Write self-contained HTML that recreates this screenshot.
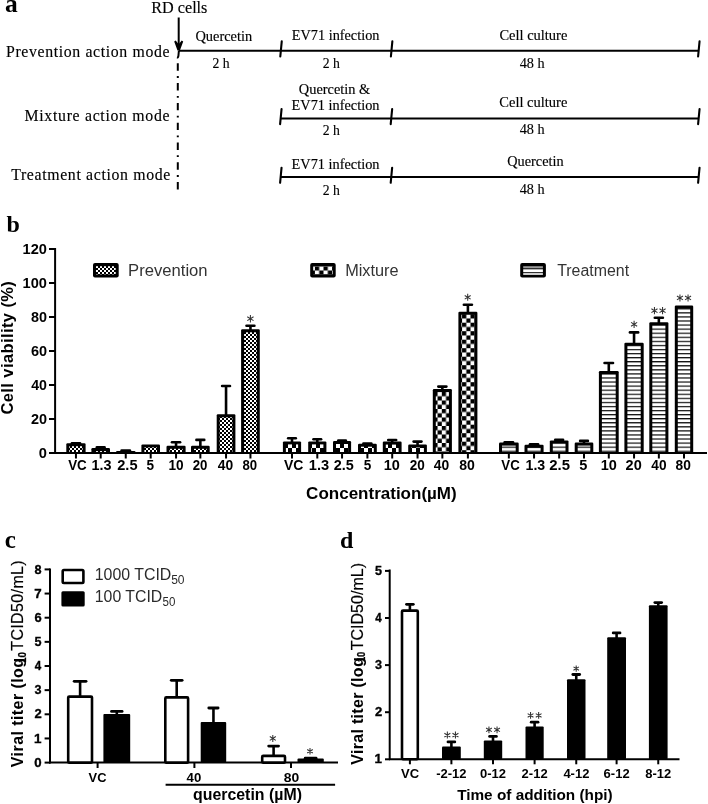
<!DOCTYPE html>
<html><head><meta charset="utf-8"><title>Figure</title>
<style>html,body{margin:0;padding:0;background:#fff;width:708px;height:804px;overflow:hidden}svg{display:block;will-change:transform}</style>
</head><body><svg width="708" height="804" viewBox="0 0 708 804">
<defs>
<pattern id="ck2" width="4" height="4" patternUnits="userSpaceOnUse"><rect width="4" height="4" fill="#fff"/><rect width="2" height="2" fill="#000"/><rect x="2" y="2" width="2" height="2" fill="#000"/></pattern>
<pattern id="ck4" width="8" height="8" patternUnits="userSpaceOnUse"><rect width="8" height="8" fill="#fff"/><rect width="4" height="4" fill="#000"/><rect x="4" y="4" width="4" height="4" fill="#000"/></pattern>
<pattern id="hs" width="4" height="4.07" patternUnits="userSpaceOnUse" patternTransform="translate(0,2.95)"><rect width="4" height="4.07" fill="#fff"/><rect y="0.05" width="4" height="1.15" fill="#000"/></pattern>
<pattern id="ckm80" width="8.4" height="8.5" patternUnits="userSpaceOnUse" patternTransform="translate(462.1,314.2)"><rect width="8.4" height="8.5" fill="#fff"/><rect width="4.2" height="4.25" fill="#000"/><rect x="4.2" y="4.25" width="4.2" height="4.25" fill="#000"/></pattern>
<pattern id="ckm40" width="8.4" height="8.5" patternUnits="userSpaceOnUse" patternTransform="translate(441.8,392)"><rect width="8.4" height="8.5" fill="#fff"/><rect width="4.2" height="4.25" fill="#000"/><rect x="4.2" y="4.25" width="4.2" height="4.25" fill="#000"/></pattern>
<pattern id="ckleg" width="8.6" height="8.2" patternUnits="userSpaceOnUse" patternTransform="translate(314.9,266.4)"><rect width="8.6" height="8.2" fill="#fff"/><rect width="4.3" height="4.1" fill="#000"/><rect x="4.3" y="4.1" width="4.3" height="4.1" fill="#000"/></pattern>
</defs>
<text x="5.00" y="11.90" font-family="Liberation Serif" font-weight="bold" font-size="25.5" fill="#000">a</text>
<text x="151.25" y="13.40" font-family="Liberation Serif" font-weight="normal" font-size="16" fill="#000" stroke="#000" stroke-width="0.15" textLength="56.16" lengthAdjust="spacingAndGlyphs">RD cells</text>
<line x1="178.70" y1="17.50" x2="178.70" y2="47.00" stroke="#000" stroke-width="2"/>
<path d="M174.2,41.6 L175.7,40.5 L178.7,44.2 L181.7,40.5 L183.2,41.6 L179.9,50.6 L177.5,50.6 Z" fill="#000"/>
<line x1="179.00" y1="50.80" x2="698.50" y2="50.80" stroke="#000" stroke-width="2"/>
<line x1="281.75" y1="41.40" x2="280.30" y2="56.50" stroke="#000" stroke-width="2.1" stroke-linecap="round"/>
<line x1="392.35" y1="41.40" x2="390.90" y2="56.50" stroke="#000" stroke-width="2.1" stroke-linecap="round"/>
<line x1="699.55" y1="41.40" x2="698.10" y2="56.50" stroke="#000" stroke-width="2.1" stroke-linecap="round"/>
<path d="M178.9,50.5 L178.4,56 Q178.2,57.6 176.9,57.4" fill="none" stroke="#000" stroke-width="2"/>
<line x1="280.60" y1="118.50" x2="698.50" y2="118.50" stroke="#000" stroke-width="2"/>
<line x1="281.55" y1="109.10" x2="280.10" y2="124.20" stroke="#000" stroke-width="2.1" stroke-linecap="round"/>
<line x1="392.15" y1="109.10" x2="390.70" y2="124.20" stroke="#000" stroke-width="2.1" stroke-linecap="round"/>
<line x1="699.55" y1="109.10" x2="698.10" y2="124.20" stroke="#000" stroke-width="2.1" stroke-linecap="round"/>
<line x1="280.60" y1="177.10" x2="698.50" y2="177.10" stroke="#000" stroke-width="2"/>
<line x1="281.55" y1="167.70" x2="280.10" y2="182.80" stroke="#000" stroke-width="2.1" stroke-linecap="round"/>
<line x1="392.15" y1="167.70" x2="390.70" y2="182.80" stroke="#000" stroke-width="2.1" stroke-linecap="round"/>
<line x1="699.55" y1="167.70" x2="698.10" y2="182.80" stroke="#000" stroke-width="2.1" stroke-linecap="round"/>
<line x1="177.8" y1="63.3" x2="177.8" y2="190" stroke="#000" stroke-width="2" stroke-dasharray="7.4 5.4 1.8 5.2"/>
<text x="5.95" y="56.80" font-family="Liberation Serif" font-weight="normal" font-size="15.8" fill="#000" stroke="#000" stroke-width="0.15" textLength="163.56" lengthAdjust="spacing">Prevention action mode</text>
<text x="24.55" y="121.10" font-family="Liberation Serif" font-weight="normal" font-size="15.8" fill="#000" stroke="#000" stroke-width="0.15" textLength="144.96" lengthAdjust="spacing">Mixture action mode</text>
<text x="11.15" y="179.60" font-family="Liberation Serif" font-weight="normal" font-size="15.8" fill="#000" stroke="#000" stroke-width="0.15" textLength="159.17" lengthAdjust="spacing">Treatment action mode</text>
<text x="195.43" y="41.20" font-family="Liberation Serif" font-weight="normal" font-size="14" fill="#000" stroke="#000" stroke-width="0.15" textLength="56.77" lengthAdjust="spacingAndGlyphs">Quercetin</text>
<text x="212.41" y="67.50" font-family="Liberation Serif" font-weight="normal" font-size="14" fill="#000" stroke="#000" stroke-width="0.15" textLength="17.13" lengthAdjust="spacingAndGlyphs">2 h</text>
<text x="291.79" y="40.30" font-family="Liberation Serif" font-weight="normal" font-size="14" fill="#000" stroke="#000" stroke-width="0.15" textLength="87.63" lengthAdjust="spacingAndGlyphs">EV71 infection</text>
<text x="322.71" y="68.00" font-family="Liberation Serif" font-weight="normal" font-size="14" fill="#000" stroke="#000" stroke-width="0.15" textLength="17.13" lengthAdjust="spacingAndGlyphs">2 h</text>
<text x="499.43" y="40.00" font-family="Liberation Serif" font-weight="normal" font-size="14" fill="#000" stroke="#000" stroke-width="0.15" textLength="67.94" lengthAdjust="spacingAndGlyphs">Cell culture</text>
<text x="519.65" y="67.80" font-family="Liberation Serif" font-weight="normal" font-size="14" fill="#000" stroke="#000" stroke-width="0.15" textLength="24.91" lengthAdjust="spacingAndGlyphs">48 h</text>
<text x="298.84" y="93.50" font-family="Liberation Serif" font-weight="normal" font-size="14" fill="#000" stroke="#000" stroke-width="0.15" textLength="71.40" lengthAdjust="spacingAndGlyphs">Quercetin &amp;</text>
<text x="291.59" y="110.40" font-family="Liberation Serif" font-weight="normal" font-size="14" fill="#000" stroke="#000" stroke-width="0.15" textLength="87.94" lengthAdjust="spacingAndGlyphs">EV71 infection</text>
<text x="322.71" y="135.20" font-family="Liberation Serif" font-weight="normal" font-size="14" fill="#000" stroke="#000" stroke-width="0.15" textLength="17.13" lengthAdjust="spacingAndGlyphs">2 h</text>
<text x="499.33" y="107.20" font-family="Liberation Serif" font-weight="normal" font-size="14" fill="#000" stroke="#000" stroke-width="0.15" textLength="68.04" lengthAdjust="spacingAndGlyphs">Cell culture</text>
<text x="519.65" y="134.30" font-family="Liberation Serif" font-weight="normal" font-size="14" fill="#000" stroke="#000" stroke-width="0.15" textLength="24.91" lengthAdjust="spacingAndGlyphs">48 h</text>
<text x="291.59" y="169.40" font-family="Liberation Serif" font-weight="normal" font-size="14" fill="#000" stroke="#000" stroke-width="0.15" textLength="87.94" lengthAdjust="spacingAndGlyphs">EV71 infection</text>
<text x="322.71" y="194.70" font-family="Liberation Serif" font-weight="normal" font-size="14" fill="#000" stroke="#000" stroke-width="0.15" textLength="17.13" lengthAdjust="spacingAndGlyphs">2 h</text>
<text x="507.24" y="166.00" font-family="Liberation Serif" font-weight="normal" font-size="14" fill="#000" stroke="#000" stroke-width="0.15" textLength="56.36" lengthAdjust="spacingAndGlyphs">Quercetin</text>
<text x="519.65" y="193.50" font-family="Liberation Serif" font-weight="normal" font-size="14" fill="#000" stroke="#000" stroke-width="0.15" textLength="24.91" lengthAdjust="spacingAndGlyphs">48 h</text>
<text x="6.50" y="232.00" font-family="Liberation Serif" font-weight="bold" font-size="24" fill="#000">b</text>
<line x1="55.10" y1="248.00" x2="55.10" y2="454.00" stroke="#000" stroke-width="2"/>
<line x1="49.00" y1="453.00" x2="56.00" y2="453.00" stroke="#000" stroke-width="2"/>
<text x="38.83" y="457.90" font-family="Liberation Sans" font-weight="bold" font-size="15.5" fill="#000" textLength="8.15" lengthAdjust="spacingAndGlyphs">0</text>
<line x1="49.00" y1="419.00" x2="56.00" y2="419.00" stroke="#000" stroke-width="2"/>
<text x="30.93" y="423.90" font-family="Liberation Sans" font-weight="bold" font-size="15.5" fill="#000" textLength="16.06" lengthAdjust="spacingAndGlyphs">20</text>
<line x1="49.00" y1="385.00" x2="56.00" y2="385.00" stroke="#000" stroke-width="2"/>
<text x="31.22" y="389.90" font-family="Liberation Sans" font-weight="bold" font-size="15.5" fill="#000" textLength="15.77" lengthAdjust="spacingAndGlyphs">40</text>
<line x1="49.00" y1="351.00" x2="56.00" y2="351.00" stroke="#000" stroke-width="2"/>
<text x="30.89" y="355.90" font-family="Liberation Sans" font-weight="bold" font-size="15.5" fill="#000" textLength="16.11" lengthAdjust="spacingAndGlyphs">60</text>
<line x1="49.00" y1="317.00" x2="56.00" y2="317.00" stroke="#000" stroke-width="2"/>
<text x="30.98" y="321.90" font-family="Liberation Sans" font-weight="bold" font-size="15.5" fill="#000" textLength="16.01" lengthAdjust="spacingAndGlyphs">80</text>
<line x1="49.00" y1="283.00" x2="56.00" y2="283.00" stroke="#000" stroke-width="2"/>
<text x="22.60" y="287.90" font-family="Liberation Sans" font-weight="bold" font-size="15.5" fill="#000" textLength="24.37" lengthAdjust="spacingAndGlyphs">100</text>
<line x1="49.00" y1="249.00" x2="56.00" y2="249.00" stroke="#000" stroke-width="2"/>
<text x="22.60" y="253.90" font-family="Liberation Sans" font-weight="bold" font-size="15.5" fill="#000" textLength="24.37" lengthAdjust="spacingAndGlyphs">120</text>
<text x="13.30" y="414.55" transform="rotate(-90 13.30 414.55)" font-family="Liberation Sans" font-weight="bold" font-size="16.5" fill="#000" textLength="133.43" lengthAdjust="spacing">Cell viability (%)</text>
<line x1="54.00" y1="453.00" x2="707.00" y2="453.00" stroke="#000" stroke-width="2"/>
<line x1="75.95" y1="443.40" x2="75.95" y2="444.20" stroke="#000" stroke-width="2.6"/>
<line x1="71.84" y1="443.40" x2="80.06" y2="443.40" stroke="#000" stroke-width="2.6" stroke-linecap="round"/>
<rect x="66.30" y="443.20" width="19.30" height="9.80" rx="1.2" fill="#000"/>
<rect x="69.30" y="446.20" width="13.30" height="5.80" fill="url(#ck2)"/>
<line x1="75.95" y1="453.00" x2="75.95" y2="458.50" stroke="#000" stroke-width="2"/>
<line x1="100.70" y1="447.40" x2="100.70" y2="449.10" stroke="#000" stroke-width="2.6"/>
<line x1="96.79" y1="447.40" x2="104.61" y2="447.40" stroke="#000" stroke-width="2.6" stroke-linecap="round"/>
<rect x="91.40" y="448.10" width="18.60" height="4.90" rx="1.2" fill="#000"/>
<rect x="94.40" y="451.10" width="12.60" height="0.90" fill="url(#ck2)"/>
<line x1="100.70" y1="453.00" x2="100.70" y2="458.50" stroke="#000" stroke-width="2"/>
<line x1="125.75" y1="450.50" x2="125.75" y2="451.90" stroke="#000" stroke-width="2.6"/>
<line x1="121.59" y1="450.50" x2="129.91" y2="450.50" stroke="#000" stroke-width="2.6" stroke-linecap="round"/>
<rect x="116.00" y="450.90" width="19.50" height="2.10" rx="1.2" fill="#000"/>
<rect x="119.00" y="453.90" width="13.50" height="0.00" fill="url(#ck2)"/>
<line x1="125.75" y1="453.00" x2="125.75" y2="458.50" stroke="#000" stroke-width="2"/>
<rect x="141.40" y="444.40" width="18.60" height="8.60" rx="1.2" fill="#000"/>
<rect x="144.40" y="447.40" width="12.60" height="4.60" fill="url(#ck2)"/>
<line x1="150.70" y1="453.00" x2="150.70" y2="458.50" stroke="#000" stroke-width="2"/>
<line x1="176.05" y1="442.20" x2="176.05" y2="446.80" stroke="#000" stroke-width="2.6"/>
<line x1="172.00" y1="442.20" x2="180.10" y2="442.20" stroke="#000" stroke-width="2.6" stroke-linecap="round"/>
<rect x="166.50" y="445.80" width="19.10" height="7.20" rx="1.2" fill="#000"/>
<rect x="169.50" y="448.80" width="13.10" height="3.20" fill="url(#ck2)"/>
<line x1="176.05" y1="453.00" x2="176.05" y2="458.50" stroke="#000" stroke-width="2"/>
<line x1="200.35" y1="439.90" x2="200.35" y2="446.80" stroke="#000" stroke-width="2.6"/>
<line x1="196.41" y1="439.90" x2="204.29" y2="439.90" stroke="#000" stroke-width="2.6" stroke-linecap="round"/>
<rect x="191.00" y="445.80" width="18.70" height="7.20" rx="1.2" fill="#000"/>
<rect x="194.00" y="448.80" width="12.70" height="3.20" fill="url(#ck2)"/>
<line x1="200.35" y1="453.00" x2="200.35" y2="458.50" stroke="#000" stroke-width="2"/>
<line x1="226.05" y1="386.00" x2="226.05" y2="415.30" stroke="#000" stroke-width="2.6"/>
<line x1="222.11" y1="386.00" x2="229.99" y2="386.00" stroke="#000" stroke-width="2.6" stroke-linecap="round"/>
<rect x="216.70" y="414.30" width="18.70" height="38.70" rx="1.2" fill="#000"/>
<rect x="219.70" y="417.30" width="12.70" height="34.70" fill="url(#ck2)"/>
<line x1="226.05" y1="453.00" x2="226.05" y2="458.50" stroke="#000" stroke-width="2"/>
<line x1="250.45" y1="325.80" x2="250.45" y2="330.30" stroke="#000" stroke-width="2.6"/>
<line x1="246.51" y1="325.80" x2="254.39" y2="325.80" stroke="#000" stroke-width="2.6" stroke-linecap="round"/>
<rect x="241.10" y="329.30" width="18.70" height="123.70" rx="1.2" fill="#000"/>
<rect x="244.10" y="332.30" width="12.70" height="119.70" fill="url(#ck2)"/>
<line x1="250.45" y1="453.00" x2="250.45" y2="458.50" stroke="#000" stroke-width="2"/>
<line x1="292.00" y1="438.20" x2="292.00" y2="442.40" stroke="#000" stroke-width="2.6"/>
<line x1="288.19" y1="438.20" x2="295.81" y2="438.20" stroke="#000" stroke-width="2.6" stroke-linecap="round"/>
<rect x="282.90" y="441.40" width="18.20" height="11.60" rx="1.2" fill="#000"/>
<rect x="285.90" y="444.40" width="12.20" height="7.60" fill="url(#ck4)"/>
<line x1="292.00" y1="453.00" x2="292.00" y2="458.50" stroke="#000" stroke-width="2"/>
<line x1="317.30" y1="439.20" x2="317.30" y2="442.40" stroke="#000" stroke-width="2.6"/>
<line x1="313.49" y1="439.20" x2="321.10" y2="439.20" stroke="#000" stroke-width="2.6" stroke-linecap="round"/>
<rect x="308.20" y="441.40" width="18.20" height="11.60" rx="1.2" fill="#000"/>
<rect x="311.20" y="444.40" width="12.20" height="7.60" fill="url(#ck4)"/>
<line x1="317.30" y1="453.00" x2="317.30" y2="458.50" stroke="#000" stroke-width="2"/>
<line x1="342.05" y1="440.60" x2="342.05" y2="442.00" stroke="#000" stroke-width="2.6"/>
<line x1="338.27" y1="440.60" x2="345.83" y2="440.60" stroke="#000" stroke-width="2.6" stroke-linecap="round"/>
<rect x="333.00" y="441.00" width="18.10" height="12.00" rx="1.2" fill="#000"/>
<rect x="336.00" y="444.00" width="12.10" height="8.00" fill="url(#ck4)"/>
<line x1="342.05" y1="453.00" x2="342.05" y2="458.50" stroke="#000" stroke-width="2"/>
<line x1="367.40" y1="443.60" x2="367.40" y2="444.70" stroke="#000" stroke-width="2.6"/>
<line x1="363.43" y1="443.60" x2="371.37" y2="443.60" stroke="#000" stroke-width="2.6" stroke-linecap="round"/>
<rect x="358.00" y="443.70" width="18.80" height="9.30" rx="1.2" fill="#000"/>
<rect x="361.00" y="446.70" width="12.80" height="5.30" fill="url(#ck4)"/>
<line x1="367.40" y1="453.00" x2="367.40" y2="458.50" stroke="#000" stroke-width="2"/>
<line x1="392.20" y1="440.00" x2="392.20" y2="442.60" stroke="#000" stroke-width="2.6"/>
<line x1="388.23" y1="440.00" x2="396.17" y2="440.00" stroke="#000" stroke-width="2.6" stroke-linecap="round"/>
<rect x="382.80" y="441.60" width="18.80" height="11.40" rx="1.2" fill="#000"/>
<rect x="385.80" y="444.60" width="12.80" height="7.40" fill="url(#ck4)"/>
<line x1="392.20" y1="453.00" x2="392.20" y2="458.50" stroke="#000" stroke-width="2"/>
<line x1="417.55" y1="441.60" x2="417.55" y2="445.50" stroke="#000" stroke-width="2.6"/>
<line x1="413.61" y1="441.60" x2="421.49" y2="441.60" stroke="#000" stroke-width="2.6" stroke-linecap="round"/>
<rect x="408.20" y="444.50" width="18.70" height="8.50" rx="1.2" fill="#000"/>
<rect x="411.20" y="447.50" width="12.70" height="4.50" fill="url(#ck4)"/>
<line x1="417.55" y1="453.00" x2="417.55" y2="458.50" stroke="#000" stroke-width="2"/>
<line x1="442.35" y1="386.60" x2="442.35" y2="390.10" stroke="#000" stroke-width="2.6"/>
<line x1="438.30" y1="386.60" x2="446.40" y2="386.60" stroke="#000" stroke-width="2.6" stroke-linecap="round"/>
<rect x="432.80" y="389.10" width="19.10" height="63.90" rx="1.2" fill="#000"/>
<rect x="435.80" y="392.10" width="13.10" height="59.90" fill="url(#ckm40)"/>
<line x1="442.35" y1="453.00" x2="442.35" y2="458.50" stroke="#000" stroke-width="2"/>
<line x1="467.90" y1="304.70" x2="467.90" y2="312.70" stroke="#000" stroke-width="2.6"/>
<line x1="463.87" y1="304.70" x2="471.93" y2="304.70" stroke="#000" stroke-width="2.6" stroke-linecap="round"/>
<rect x="458.40" y="311.70" width="19.00" height="141.30" rx="1.2" fill="#000"/>
<rect x="461.40" y="314.70" width="13.00" height="137.30" fill="url(#ckm80)"/>
<line x1="467.90" y1="453.00" x2="467.90" y2="458.50" stroke="#000" stroke-width="2"/>
<line x1="508.85" y1="442.40" x2="508.85" y2="443.60" stroke="#000" stroke-width="2.6"/>
<line x1="504.63" y1="442.40" x2="513.07" y2="442.40" stroke="#000" stroke-width="2.6" stroke-linecap="round"/>
<rect x="499.00" y="442.60" width="19.70" height="10.40" rx="1.2" fill="#000"/>
<rect x="502.00" y="445.60" width="13.70" height="6.40" fill="url(#hs)"/>
<line x1="508.85" y1="453.00" x2="508.85" y2="458.50" stroke="#000" stroke-width="2"/>
<line x1="534.05" y1="444.30" x2="534.05" y2="445.80" stroke="#000" stroke-width="2.6"/>
<line x1="530.00" y1="444.30" x2="538.10" y2="444.30" stroke="#000" stroke-width="2.6" stroke-linecap="round"/>
<rect x="524.50" y="444.80" width="19.10" height="8.20" rx="1.2" fill="#000"/>
<rect x="527.50" y="447.80" width="13.10" height="4.20" fill="url(#hs)"/>
<line x1="534.05" y1="453.00" x2="534.05" y2="458.50" stroke="#000" stroke-width="2"/>
<line x1="559.15" y1="439.90" x2="559.15" y2="441.40" stroke="#000" stroke-width="2.6"/>
<line x1="555.21" y1="439.90" x2="563.09" y2="439.90" stroke="#000" stroke-width="2.6" stroke-linecap="round"/>
<rect x="549.80" y="440.40" width="18.70" height="12.60" rx="1.2" fill="#000"/>
<rect x="552.80" y="443.40" width="12.70" height="8.60" fill="url(#hs)"/>
<line x1="559.15" y1="453.00" x2="559.15" y2="458.50" stroke="#000" stroke-width="2"/>
<line x1="584.00" y1="440.90" x2="584.00" y2="443.60" stroke="#000" stroke-width="2.6"/>
<line x1="580.09" y1="440.90" x2="587.91" y2="440.90" stroke="#000" stroke-width="2.6" stroke-linecap="round"/>
<rect x="574.70" y="442.60" width="18.60" height="10.40" rx="1.2" fill="#000"/>
<rect x="577.70" y="445.60" width="12.60" height="6.40" fill="url(#hs)"/>
<line x1="584.00" y1="453.00" x2="584.00" y2="458.50" stroke="#000" stroke-width="2"/>
<line x1="608.80" y1="363.00" x2="608.80" y2="372.10" stroke="#000" stroke-width="2.6"/>
<line x1="604.55" y1="363.00" x2="613.04" y2="363.00" stroke="#000" stroke-width="2.6" stroke-linecap="round"/>
<rect x="598.90" y="371.10" width="19.80" height="81.90" rx="1.2" fill="#000"/>
<rect x="601.90" y="374.10" width="13.80" height="77.90" fill="url(#hs)"/>
<line x1="608.80" y1="453.00" x2="608.80" y2="458.50" stroke="#000" stroke-width="2"/>
<line x1="634.05" y1="332.40" x2="634.05" y2="343.70" stroke="#000" stroke-width="2.6"/>
<line x1="629.94" y1="332.40" x2="638.16" y2="332.40" stroke="#000" stroke-width="2.6" stroke-linecap="round"/>
<rect x="624.40" y="342.70" width="19.30" height="110.30" rx="1.2" fill="#000"/>
<rect x="627.40" y="345.70" width="13.30" height="106.30" fill="url(#hs)"/>
<line x1="634.05" y1="453.00" x2="634.05" y2="458.50" stroke="#000" stroke-width="2"/>
<line x1="658.85" y1="317.80" x2="658.85" y2="323.30" stroke="#000" stroke-width="2.6"/>
<line x1="654.80" y1="317.80" x2="662.90" y2="317.80" stroke="#000" stroke-width="2.6" stroke-linecap="round"/>
<rect x="649.30" y="322.30" width="19.10" height="130.70" rx="1.2" fill="#000"/>
<rect x="652.30" y="325.30" width="13.10" height="126.70" fill="url(#hs)"/>
<line x1="658.85" y1="453.00" x2="658.85" y2="458.50" stroke="#000" stroke-width="2"/>
<rect x="674.80" y="305.50" width="18.40" height="147.50" rx="1.2" fill="#000"/>
<rect x="677.80" y="308.50" width="12.40" height="143.50" fill="url(#hs)"/>
<line x1="684.00" y1="453.00" x2="684.00" y2="458.50" stroke="#000" stroke-width="2"/>
<text x="68.15" y="469.90" font-family="Liberation Sans" font-weight="bold" font-size="14" fill="#000" textLength="18.58" lengthAdjust="spacingAndGlyphs">VC</text>
<text x="91.42" y="469.90" font-family="Liberation Sans" font-weight="bold" font-size="14" fill="#000" textLength="20.05" lengthAdjust="spacingAndGlyphs">1.3</text>
<text x="117.23" y="469.90" font-family="Liberation Sans" font-weight="bold" font-size="14" fill="#000" textLength="20.35" lengthAdjust="spacingAndGlyphs">2.5</text>
<text x="146.61" y="469.90" font-family="Liberation Sans" font-weight="bold" font-size="14" fill="#000" textLength="7.56" lengthAdjust="spacingAndGlyphs">5</text>
<text x="168.57" y="469.90" font-family="Liberation Sans" font-weight="bold" font-size="14" fill="#000" textLength="15.13" lengthAdjust="spacingAndGlyphs">10</text>
<text x="192.77" y="469.90" font-family="Liberation Sans" font-weight="bold" font-size="14" fill="#000" textLength="14.72" lengthAdjust="spacingAndGlyphs">20</text>
<text x="217.80" y="469.90" font-family="Liberation Sans" font-weight="bold" font-size="14" fill="#000" textLength="15.41" lengthAdjust="spacingAndGlyphs">40</text>
<text x="242.42" y="469.90" font-family="Liberation Sans" font-weight="bold" font-size="14" fill="#000" textLength="14.67" lengthAdjust="spacingAndGlyphs">80</text>
<text x="283.95" y="469.90" font-family="Liberation Sans" font-weight="bold" font-size="14" fill="#000" textLength="19.40" lengthAdjust="spacingAndGlyphs">VC</text>
<text x="308.81" y="469.90" font-family="Liberation Sans" font-weight="bold" font-size="14" fill="#000" textLength="20.37" lengthAdjust="spacingAndGlyphs">1.3</text>
<text x="333.74" y="469.90" font-family="Liberation Sans" font-weight="bold" font-size="14" fill="#000" textLength="20.04" lengthAdjust="spacingAndGlyphs">2.5</text>
<text x="363.71" y="469.90" font-family="Liberation Sans" font-weight="bold" font-size="14" fill="#000" textLength="7.56" lengthAdjust="spacingAndGlyphs">5</text>
<text x="383.82" y="469.90" font-family="Liberation Sans" font-weight="bold" font-size="14" fill="#000" textLength="16.12" lengthAdjust="spacingAndGlyphs">10</text>
<text x="409.67" y="469.90" font-family="Liberation Sans" font-weight="bold" font-size="14" fill="#000" textLength="15.04" lengthAdjust="spacingAndGlyphs">20</text>
<text x="433.80" y="469.90" font-family="Liberation Sans" font-weight="bold" font-size="14" fill="#000" textLength="15.41" lengthAdjust="spacingAndGlyphs">40</text>
<text x="459.30" y="469.90" font-family="Liberation Sans" font-weight="bold" font-size="14" fill="#000" textLength="15.63" lengthAdjust="spacingAndGlyphs">80</text>
<text x="501.35" y="469.90" font-family="Liberation Sans" font-weight="bold" font-size="14" fill="#000" textLength="18.38" lengthAdjust="spacingAndGlyphs">VC</text>
<text x="525.54" y="469.90" font-family="Liberation Sans" font-weight="bold" font-size="14" fill="#000" textLength="19.73" lengthAdjust="spacingAndGlyphs">1.3</text>
<text x="549.22" y="469.90" font-family="Liberation Sans" font-weight="bold" font-size="14" fill="#000" textLength="20.77" lengthAdjust="spacingAndGlyphs">2.5</text>
<text x="579.28" y="469.90" font-family="Liberation Sans" font-weight="bold" font-size="14" fill="#000" textLength="8.12" lengthAdjust="spacingAndGlyphs">5</text>
<text x="600.82" y="469.90" font-family="Liberation Sans" font-weight="bold" font-size="14" fill="#000" textLength="16.12" lengthAdjust="spacingAndGlyphs">10</text>
<text x="625.63" y="469.90" font-family="Liberation Sans" font-weight="bold" font-size="14" fill="#000" textLength="16.11" lengthAdjust="spacingAndGlyphs">20</text>
<text x="651.30" y="469.90" font-family="Liberation Sans" font-weight="bold" font-size="14" fill="#000" textLength="15.20" lengthAdjust="spacingAndGlyphs">40</text>
<text x="675.61" y="469.90" font-family="Liberation Sans" font-weight="bold" font-size="14" fill="#000" textLength="15.31" lengthAdjust="spacingAndGlyphs">80</text>
<path d="M250.40,315.00V322.40M247.26,316.74L253.54,320.66M247.26,320.66L253.54,316.74" stroke="#333" stroke-width="1.05" fill="none"/>
<path d="M467.70,293.80V300.80M464.73,295.45L470.67,299.15M464.73,299.15L470.67,295.45" stroke="#333" stroke-width="1.05" fill="none"/>
<path d="M634.10,320.70V327.90M631.05,322.39L637.15,326.21M631.05,326.21L637.15,322.39" stroke="#333" stroke-width="1.05" fill="none"/>
<path d="M654.45,307.10V314.30M651.40,308.79L657.50,312.61M651.40,312.61L657.50,308.79M662.55,307.10V314.30M659.50,308.79L665.60,312.61M659.50,312.61L665.60,308.79" stroke="#333" stroke-width="1.05" fill="none"/>
<path d="M679.95,294.40V301.50M676.94,296.07L682.96,299.83M676.94,299.83L682.96,296.07M688.05,294.40V301.50M685.04,296.07L691.06,299.83M685.04,299.83L691.06,296.07" stroke="#333" stroke-width="1.05" fill="none"/>
<rect x="93.00" y="263.00" width="25.70" height="14.60" rx="2" fill="#000"/>
<rect x="96.00" y="266.20" width="19.70" height="8.20" fill="url(#ck2)"/>
<rect x="310.20" y="263.00" width="25.50" height="14.60" rx="2" fill="#000"/>
<rect x="313.20" y="266.20" width="19.50" height="8.20" fill="url(#ckleg)"/>
<rect x="520.2" y="263.0" width="25.7" height="14.6" rx="2" fill="#000"/>
<rect x="523.2" y="266.2" width="19.7" height="2.1" fill="#999"/>
<rect x="523.2" y="269.3" width="19.7" height="2.9" fill="#fff"/>
<rect x="523.2" y="273.2" width="19.7" height="1.6" fill="#fff"/>
<text x="128.05" y="275.70" font-family="Liberation Sans" font-weight="normal" font-size="16" fill="#333" textLength="79.58" lengthAdjust="spacingAndGlyphs">Prevention</text>
<text x="345.18" y="275.70" font-family="Liberation Sans" font-weight="normal" font-size="16" fill="#333" textLength="53.44" lengthAdjust="spacingAndGlyphs">Mixture</text>
<text x="557.15" y="275.70" font-family="Liberation Sans" font-weight="normal" font-size="16" fill="#333" textLength="71.92" lengthAdjust="spacingAndGlyphs">Treatment</text>
<text x="306.12" y="499.20" font-family="Liberation Sans" font-weight="bold" font-size="16.3" fill="#000" textLength="150.57" lengthAdjust="spacingAndGlyphs">Concentration(µM)</text>
<text x="4.75" y="548.40" font-family="Liberation Serif" font-weight="bold" font-size="25" fill="#000">c</text>
<line x1="50.00" y1="568.50" x2="50.00" y2="763.50" stroke="#000" stroke-width="2"/>
<line x1="44.60" y1="762.60" x2="50.00" y2="762.60" stroke="#000" stroke-width="2"/>
<text x="34.39" y="766.70" font-family="Liberation Sans" font-weight="bold" font-size="13" fill="#000" textLength="7.35" lengthAdjust="spacingAndGlyphs" stroke="#000" stroke-width="0.35">0</text>
<line x1="44.60" y1="738.45" x2="50.00" y2="738.45" stroke="#000" stroke-width="2"/>
<text x="34.07" y="742.55" font-family="Liberation Sans" font-weight="bold" font-size="13" fill="#000" textLength="7.47" lengthAdjust="spacingAndGlyphs" stroke="#000" stroke-width="0.35">1</text>
<line x1="44.60" y1="714.30" x2="50.00" y2="714.30" stroke="#000" stroke-width="2"/>
<text x="34.45" y="718.40" font-family="Liberation Sans" font-weight="bold" font-size="13" fill="#000" textLength="7.23" lengthAdjust="spacingAndGlyphs" stroke="#000" stroke-width="0.35">2</text>
<line x1="44.60" y1="690.15" x2="50.00" y2="690.15" stroke="#000" stroke-width="2"/>
<text x="34.61" y="694.25" font-family="Liberation Sans" font-weight="bold" font-size="13" fill="#000" textLength="7.01" lengthAdjust="spacingAndGlyphs" stroke="#000" stroke-width="0.35">3</text>
<line x1="44.60" y1="666.00" x2="50.00" y2="666.00" stroke="#000" stroke-width="2"/>
<text x="34.77" y="670.10" font-family="Liberation Sans" font-weight="bold" font-size="13" fill="#000" textLength="6.46" lengthAdjust="spacingAndGlyphs" stroke="#000" stroke-width="0.35">4</text>
<line x1="44.60" y1="641.85" x2="50.00" y2="641.85" stroke="#000" stroke-width="2"/>
<text x="34.51" y="645.95" font-family="Liberation Sans" font-weight="bold" font-size="13" fill="#000" textLength="7.01" lengthAdjust="spacingAndGlyphs" stroke="#000" stroke-width="0.35">5</text>
<line x1="44.60" y1="617.70" x2="50.00" y2="617.70" stroke="#000" stroke-width="2"/>
<text x="34.45" y="621.80" font-family="Liberation Sans" font-weight="bold" font-size="13" fill="#000" textLength="7.17" lengthAdjust="spacingAndGlyphs" stroke="#000" stroke-width="0.35">6</text>
<line x1="44.60" y1="593.55" x2="50.00" y2="593.55" stroke="#000" stroke-width="2"/>
<text x="34.34" y="597.65" font-family="Liberation Sans" font-weight="bold" font-size="13" fill="#000" textLength="7.41" lengthAdjust="spacingAndGlyphs" stroke="#000" stroke-width="0.35">7</text>
<line x1="44.60" y1="569.40" x2="50.00" y2="569.40" stroke="#000" stroke-width="2"/>
<text x="34.51" y="573.50" font-family="Liberation Sans" font-weight="bold" font-size="13" fill="#000" textLength="7.06" lengthAdjust="spacingAndGlyphs" stroke="#000" stroke-width="0.35">8</text>
<line x1="49.00" y1="762.60" x2="338.00" y2="762.60" stroke="#000" stroke-width="2"/>
<line x1="80.10" y1="681.30" x2="80.10" y2="696.30" stroke="#000" stroke-width="2.6"/>
<line x1="74.15" y1="681.30" x2="86.05" y2="681.30" stroke="#000" stroke-width="2.8" stroke-linecap="round"/>
<rect x="68.20" y="696.60" width="23.80" height="66.00" rx="1" fill="#fff" stroke="#000" stroke-width="2.6"/>
<line x1="116.80" y1="711.40" x2="116.80" y2="714.90" stroke="#000" stroke-width="2.6"/>
<line x1="111.50" y1="711.40" x2="122.10" y2="711.40" stroke="#000" stroke-width="2.8" stroke-linecap="round"/>
<rect x="103.40" y="713.90" width="26.80" height="48.70" fill="#000" rx="1"/>
<line x1="176.70" y1="680.30" x2="176.70" y2="697.10" stroke="#000" stroke-width="2.6"/>
<line x1="171.25" y1="680.30" x2="182.15" y2="680.30" stroke="#000" stroke-width="2.8" stroke-linecap="round"/>
<rect x="165.30" y="697.40" width="22.80" height="65.20" rx="1" fill="#fff" stroke="#000" stroke-width="2.6"/>
<line x1="213.45" y1="708.00" x2="213.45" y2="723.10" stroke="#000" stroke-width="2.6"/>
<line x1="208.80" y1="708.00" x2="218.10" y2="708.00" stroke="#000" stroke-width="2.8" stroke-linecap="round"/>
<rect x="200.70" y="722.10" width="25.50" height="40.50" fill="#000" rx="1"/>
<line x1="273.60" y1="746.10" x2="273.60" y2="755.60" stroke="#000" stroke-width="2.6"/>
<line x1="268.65" y1="746.10" x2="278.55" y2="746.10" stroke="#000" stroke-width="2.8" stroke-linecap="round"/>
<rect x="262.20" y="755.90" width="22.80" height="6.70" rx="1" fill="#fff" stroke="#000" stroke-width="2.6"/>
<line x1="310.65" y1="758.20" x2="310.65" y2="759.40" stroke="#000" stroke-width="2.6"/>
<line x1="305.20" y1="758.20" x2="316.10" y2="758.20" stroke="#000" stroke-width="2.8" stroke-linecap="round"/>
<rect x="297.50" y="758.40" width="26.30" height="4.20" fill="#000" rx="1"/>
<path d="M272.80,734.90V742.00M269.79,736.57L275.81,740.33M269.79,740.33L275.81,736.57" stroke="#333" stroke-width="1.05" fill="none"/>
<path d="M310.00,748.00V754.60M307.20,749.55L312.80,753.05M307.20,753.05L312.80,749.55" stroke="#333" stroke-width="1.05" fill="none"/>
<line x1="97.60" y1="762.60" x2="97.60" y2="768.00" stroke="#000" stroke-width="2"/>
<line x1="194.40" y1="762.60" x2="194.40" y2="768.00" stroke="#000" stroke-width="2"/>
<line x1="291.00" y1="762.60" x2="291.00" y2="768.00" stroke="#000" stroke-width="2"/>
<text x="88.55" y="781.70" font-family="Liberation Sans" font-weight="bold" font-size="13" fill="#000" textLength="17.91" lengthAdjust="spacingAndGlyphs">VC</text>
<text x="186.55" y="781.60" font-family="Liberation Sans" font-weight="bold" font-size="13" fill="#000" textLength="14.67" lengthAdjust="spacingAndGlyphs">40</text>
<text x="283.77" y="781.60" font-family="Liberation Sans" font-weight="bold" font-size="13" fill="#000" textLength="15.47" lengthAdjust="spacingAndGlyphs">80</text>
<line x1="165.60" y1="784.70" x2="335.10" y2="784.70" stroke="#000" stroke-width="2"/>
<text x="193.00" y="800.10" font-family="Liberation Sans" font-weight="bold" font-size="15.8" fill="#000" textLength="108.95" lengthAdjust="spacingAndGlyphs">quercetin (µM)</text>
<rect x="62.7" y="570.0" width="20.7" height="13.0" fill="#fff" stroke="#000" stroke-width="2.6" rx="1.2"/>
<rect x="61.4" y="591.3" width="23.3" height="15.1" fill="#000" rx="1.5"/>
<text x="94.81" y="579.80" font-family="Liberation Sans" font-weight="normal" font-size="16" fill="#2a2a2a" textLength="76.46" lengthAdjust="spacingAndGlyphs">1000 TCID</text>
<text x="171.15" y="583.50" font-family="Liberation Sans" font-weight="normal" font-size="12" fill="#2a2a2a" textLength="13.40" lengthAdjust="spacingAndGlyphs">50</text>
<text x="94.81" y="602.00" font-family="Liberation Sans" font-weight="normal" font-size="16" fill="#2a2a2a" textLength="67.41" lengthAdjust="spacingAndGlyphs">100 TCID</text>
<text x="162.57" y="605.80" font-family="Liberation Sans" font-weight="normal" font-size="12" fill="#2a2a2a" textLength="12.87" lengthAdjust="spacingAndGlyphs">50</text>
<text x="22.90" y="767.20" transform="rotate(-90 22.90 767.20)" font-family="Liberation Sans" font-weight="bold" font-size="16" fill="#000" textLength="109.24" lengthAdjust="spacing">Viral titer (log</text>
<text x="26.40" y="662.80" transform="rotate(-90 26.40 662.80)" font-family="Liberation Sans" font-weight="bold" font-size="10.5" fill="#000" textLength="10.75" lengthAdjust="spacingAndGlyphs" stroke="#000" stroke-width="0.3">10</text>
<text x="22.90" y="650.75" transform="rotate(-90 22.90 650.75)" font-family="Liberation Sans" font-weight="normal" font-size="16" fill="#000" textLength="90.42" lengthAdjust="spacing" stroke="#000" stroke-width="0.2">TCID50/mL)</text>
<text x="340.05" y="548.00" font-family="Liberation Serif" font-weight="bold" font-size="24" fill="#000">d</text>
<line x1="389.70" y1="569.50" x2="389.70" y2="760.00" stroke="#000" stroke-width="2"/>
<line x1="385.00" y1="759.30" x2="390.00" y2="759.30" stroke="#000" stroke-width="2"/>
<text x="374.57" y="763.40" font-family="Liberation Sans" font-weight="bold" font-size="13" fill="#000" textLength="7.47" lengthAdjust="spacingAndGlyphs" stroke="#000" stroke-width="0.35">1</text>
<line x1="385.00" y1="712.20" x2="390.00" y2="712.20" stroke="#000" stroke-width="2"/>
<text x="374.95" y="716.30" font-family="Liberation Sans" font-weight="bold" font-size="13" fill="#000" textLength="7.23" lengthAdjust="spacingAndGlyphs" stroke="#000" stroke-width="0.35">2</text>
<line x1="385.00" y1="665.10" x2="390.00" y2="665.10" stroke="#000" stroke-width="2"/>
<text x="375.11" y="669.20" font-family="Liberation Sans" font-weight="bold" font-size="13" fill="#000" textLength="7.01" lengthAdjust="spacingAndGlyphs" stroke="#000" stroke-width="0.35">3</text>
<line x1="385.00" y1="618.00" x2="390.00" y2="618.00" stroke="#000" stroke-width="2"/>
<text x="375.27" y="622.10" font-family="Liberation Sans" font-weight="bold" font-size="13" fill="#000" textLength="6.46" lengthAdjust="spacingAndGlyphs" stroke="#000" stroke-width="0.35">4</text>
<line x1="385.00" y1="570.90" x2="390.00" y2="570.90" stroke="#000" stroke-width="2"/>
<text x="375.01" y="575.00" font-family="Liberation Sans" font-weight="bold" font-size="13" fill="#000" textLength="7.01" lengthAdjust="spacingAndGlyphs" stroke="#000" stroke-width="0.35">5</text>
<line x1="389.00" y1="759.30" x2="679.50" y2="759.30" stroke="#000" stroke-width="2"/>
<line x1="409.90" y1="604.30" x2="409.90" y2="610.30" stroke="#000" stroke-width="2.6"/>
<line x1="406.50" y1="604.30" x2="413.30" y2="604.30" stroke="#000" stroke-width="2.8" stroke-linecap="round"/>
<rect x="402.00" y="610.60" width="15.80" height="148.70" rx="1" fill="#fff" stroke="#000" stroke-width="2.6"/>
<line x1="409.90" y1="759.30" x2="409.90" y2="764.30" stroke="#000" stroke-width="2"/>
<text x="401.02" y="778.00" font-family="Liberation Sans" font-weight="bold" font-size="13" fill="#000">VC</text>
<line x1="451.40" y1="741.90" x2="451.40" y2="747.50" stroke="#000" stroke-width="2.6"/>
<line x1="448.00" y1="741.90" x2="454.80" y2="741.90" stroke="#000" stroke-width="2.8" stroke-linecap="round"/>
<rect x="442.00" y="746.50" width="18.80" height="12.80" fill="#000" rx="1"/>
<line x1="451.40" y1="759.30" x2="451.40" y2="764.30" stroke="#000" stroke-width="2"/>
<text x="436.22" y="778.00" font-family="Liberation Sans" font-weight="bold" font-size="13" fill="#000">-2-12</text>
<line x1="493.00" y1="736.40" x2="493.00" y2="741.60" stroke="#000" stroke-width="2.6"/>
<line x1="489.60" y1="736.40" x2="496.40" y2="736.40" stroke="#000" stroke-width="2.8" stroke-linecap="round"/>
<rect x="483.80" y="740.60" width="18.40" height="18.70" fill="#000" rx="1"/>
<line x1="493.00" y1="759.30" x2="493.00" y2="764.30" stroke="#000" stroke-width="2"/>
<text x="479.98" y="778.00" font-family="Liberation Sans" font-weight="bold" font-size="13" fill="#000">0-12</text>
<line x1="534.60" y1="722.20" x2="534.60" y2="727.40" stroke="#000" stroke-width="2.6"/>
<line x1="531.20" y1="722.20" x2="538.00" y2="722.20" stroke="#000" stroke-width="2.8" stroke-linecap="round"/>
<rect x="525.50" y="726.40" width="18.20" height="32.90" fill="#000" rx="1"/>
<line x1="534.60" y1="759.30" x2="534.60" y2="764.30" stroke="#000" stroke-width="2"/>
<text x="521.60" y="778.00" font-family="Liberation Sans" font-weight="bold" font-size="13" fill="#000">2-12</text>
<line x1="576.25" y1="674.50" x2="576.25" y2="680.20" stroke="#000" stroke-width="2.6"/>
<line x1="572.85" y1="674.50" x2="579.65" y2="674.50" stroke="#000" stroke-width="2.8" stroke-linecap="round"/>
<rect x="567.00" y="679.20" width="18.50" height="80.10" fill="#000" rx="1"/>
<line x1="576.25" y1="759.30" x2="576.25" y2="764.30" stroke="#000" stroke-width="2"/>
<text x="563.40" y="778.00" font-family="Liberation Sans" font-weight="bold" font-size="13" fill="#000">4-12</text>
<line x1="616.60" y1="632.90" x2="616.60" y2="638.20" stroke="#000" stroke-width="2.6"/>
<line x1="613.20" y1="632.90" x2="620.00" y2="632.90" stroke="#000" stroke-width="2.8" stroke-linecap="round"/>
<rect x="607.20" y="637.20" width="18.80" height="122.10" fill="#000" rx="1"/>
<line x1="616.60" y1="759.30" x2="616.60" y2="764.30" stroke="#000" stroke-width="2"/>
<text x="603.60" y="778.00" font-family="Liberation Sans" font-weight="bold" font-size="13" fill="#000">6-12</text>
<line x1="658.25" y1="602.60" x2="658.25" y2="606.20" stroke="#000" stroke-width="2.6"/>
<line x1="654.85" y1="602.60" x2="661.65" y2="602.60" stroke="#000" stroke-width="2.8" stroke-linecap="round"/>
<rect x="648.90" y="605.20" width="18.70" height="154.10" fill="#000" rx="1"/>
<line x1="658.25" y1="759.30" x2="658.25" y2="764.30" stroke="#000" stroke-width="2"/>
<text x="645.27" y="778.00" font-family="Liberation Sans" font-weight="bold" font-size="13" fill="#000">8-12</text>
<path d="M447.35,731.60V738.60M444.38,733.25L450.32,736.95M444.38,736.95L450.32,733.25M455.45,731.60V738.60M452.48,733.25L458.42,736.95M452.48,736.95L458.42,733.25" stroke="#333" stroke-width="1.05" fill="none"/>
<path d="M488.95,726.40V733.20M486.07,728.00L491.83,731.60M486.07,731.60L491.83,728.00M497.05,726.40V733.20M494.17,728.00L499.93,731.60M494.17,731.60L499.93,728.00" stroke="#333" stroke-width="1.05" fill="none"/>
<path d="M530.55,712.00V718.80M527.67,713.60L533.43,717.20M527.67,717.20L533.43,713.60M538.65,712.00V718.80M535.77,713.60L541.53,717.20M535.77,717.20L541.53,713.60" stroke="#333" stroke-width="1.05" fill="none"/>
<path d="M576.20,665.40V671.80M573.49,666.90L578.91,670.30M573.49,670.30L578.91,666.90" stroke="#333" stroke-width="1.05" fill="none"/>
<text x="457.15" y="799.60" font-family="Liberation Sans" font-weight="bold" font-size="15.2" fill="#000" textLength="155.55" lengthAdjust="spacingAndGlyphs">Time of addition (hpi)</text>
<text x="363.10" y="764.70" transform="rotate(-90 363.10 764.70)" font-family="Liberation Sans" font-weight="bold" font-size="16" fill="#000" textLength="107.44" lengthAdjust="spacing">Viral titer (log</text>
<text x="365.40" y="662.08" transform="rotate(-90 365.40 662.08)" font-family="Liberation Sans" font-weight="bold" font-size="10.5" fill="#000" textLength="10.42" lengthAdjust="spacingAndGlyphs" stroke="#000" stroke-width="0.3">10</text>
<text x="363.10" y="650.25" transform="rotate(-90 363.10 650.25)" font-family="Liberation Sans" font-weight="normal" font-size="16" fill="#000" textLength="87.23" lengthAdjust="spacing" stroke="#000" stroke-width="0.2">TCID50/mL)</text>
</svg></body></html>
